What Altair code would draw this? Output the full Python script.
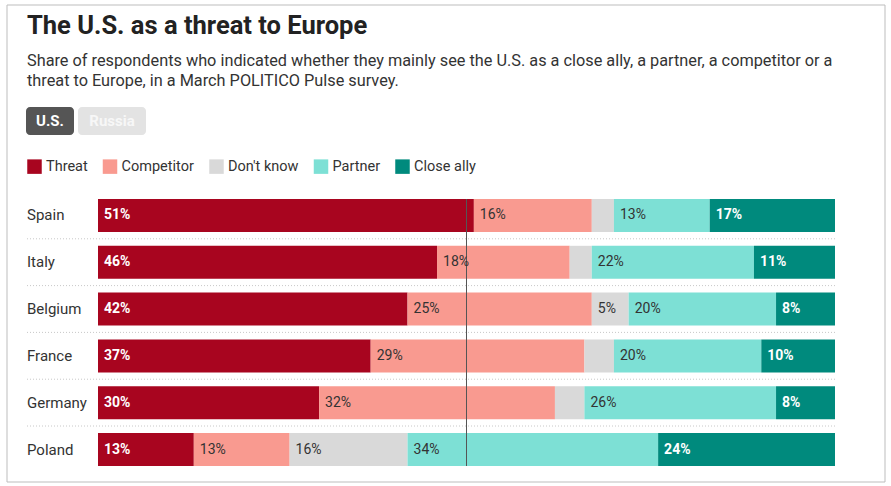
import altair as alt
import pandas as pd

countries = ["Spain", "Italy", "Belgium", "France", "Germany", "Poland"]
categories = ["Threat", "Competitor", "Don't know", "Partner", "Close ally"]
threat = [51, 46, 42, 37, 30, 13]
competitor = [16, 18, 25, 29, 32, 13]
dont_know = [3, 3, 5, 4, 4, 16]
partner = [13, 22, 20, 20, 26, 34]
close_ally = [17, 11, 8, 10, 8, 24]
colors = ["#a8051f", "#f99a90", "#d9d9d9", "#7de0d5", "#008a7d"]
label_colors = ["#ffffff", "#333333", "#333333", "#333333", "#ffffff"]

title_text = "The U.S. as a threat to Europe"
subtitle_1 = "Share of respondents who indicated whether they mainly see the U.S. as a close ally, a partner, a competitor or a"
subtitle_2 = "threat to Europe, in a March POLITICO Pulse survey."

series = [threat, competitor, dont_know, partner, close_ally]
rows = []
for i, c in enumerate(countries):
    start = 0
    for k, cat in enumerate(categories):
        v = series[k][i]
        rows.append({"country": c, "category": cat, "value": v, "start": start,
                     "end": start + v, "label": f"{v}%" if v >= 5 else "",
                     "weight": "bold" if label_colors[k] == "#ffffff" else "normal"})
        start += v
df = pd.DataFrame(rows)

FONT = "Roboto"
xs = alt.Scale(domain=[0, 100], range=[98, 835])
ys = alt.Scale(domain=countries, range=[199, 466], paddingInner=0.295, paddingOuter=0)

base = alt.Chart(df)
bars = base.mark_rect().encode(
    x=alt.X("start:Q", scale=xs, axis=None),
    x2="end:Q",
    y=alt.Y("country:N", scale=ys, axis=None),
    color=alt.Color("category:N", scale=alt.Scale(domain=categories, range=colors),
                    legend=alt.Legend(title=None, orient="none", legendX=27, legendY=159,
                                      direction="horizontal", symbolType="square",
                                      symbolSize=210, symbolStrokeWidth=0,
                                      labelFontSize=14.5, labelFont=FONT, labelColor="#333333",
                                      columnPadding=14.5, labelOffset=4, padding=0)),
)
labels_white = base.transform_filter("datum.weight == 'bold'").mark_text(
    align="left", baseline="middle", dx=6, font=FONT, fontSize=14, fontWeight="bold", color="#ffffff"
).encode(x=alt.X("start:Q", scale=xs, axis=None), y=alt.Y("country:N", scale=ys, axis=None),
         text="label:N")
labels_dark = base.transform_filter("datum.weight != 'bold'").mark_text(
    align="left", baseline="middle", dx=6, font=FONT, fontSize=14, color="#333333"
).encode(x=alt.X("start:Q", scale=xs, axis=None), y=alt.Y("country:N", scale=ys, axis=None),
         text="label:N")

cdf = pd.DataFrame({"country": countries})
row_labels = alt.Chart(cdf).mark_text(align="left", baseline="middle", font=FONT, fontSize=15,
                                       color="#333333").encode(
    x=alt.value(27), y=alt.Y("country:N", scale=ys, axis=None), text="country:N")

sep = alt.Chart(pd.DataFrame({"country": countries[1:]})).mark_rule(
    color="#c8c8c8", strokeDash=[1, 2], strokeWidth=1, yOffset=-7).encode(
    x=alt.value(27), x2=alt.value(835), y=alt.Y("country:N", scale=ys, axis=None, bandPosition=0))

mid = alt.Chart(pd.DataFrame({"v": [50]})).mark_rule(color="#555555", strokeWidth=1).encode(
    x=alt.X("v:Q", scale=xs, axis=None), y=alt.value(199), y2=alt.value(466))

border = alt.Chart(pd.DataFrame({"a": [1]})).mark_rect(fill="#ffffff", fillOpacity=0, stroke="#bdbdbd",
                                                       strokeWidth=1).encode(
    x=alt.value(7), x2=alt.value(885), y=alt.value(5), y2=alt.value(482))

title = alt.Chart(pd.DataFrame({"t": [title_text]})).mark_text(
    align="left", baseline="alphabetic", font=FONT, fontSize=25.5,
    fontWeight="bold", color="#222222").encode(
    x=alt.value(27), y=alt.value(34), text="t:N")
sub1 = alt.Chart(pd.DataFrame({"t": [subtitle_1]})).mark_text(
    align="left", baseline="alphabetic", font=FONT, fontSize=16.3, color="#333333").encode(
    x=alt.value(27), y=alt.value(66), text="t:N")
sub2 = alt.Chart(pd.DataFrame({"t": [subtitle_2]})).mark_text(
    align="left", baseline="alphabetic", font=FONT, fontSize=16.3, color="#333333").encode(
    x=alt.value(27), y=alt.value(86), text="t:N")

btn1 = alt.Chart(pd.DataFrame({"a": [1]})).mark_rect(fill="#555555", cornerRadius=4).encode(
    x=alt.value(26), x2=alt.value(74), y=alt.value(107), y2=alt.value(135))
btn2 = alt.Chart(pd.DataFrame({"a": [1]})).mark_rect(fill="#e3e3e3", cornerRadius=4).encode(
    x=alt.value(78), x2=alt.value(146), y=alt.value(107), y2=alt.value(135))
btn1t = alt.Chart(pd.DataFrame({"t": ["U.S."]})).mark_text(
    align="center", baseline="middle", font=FONT, fontSize=15, fontWeight="bold", color="#ffffff").encode(
    x=alt.value(50), y=alt.value(121), text="t:N")
btn2t = alt.Chart(pd.DataFrame({"t": ["Russia"]})).mark_text(
    align="center", baseline="middle", font=FONT, fontSize=15, fontWeight="bold", color="#f7f7f7").encode(
    x=alt.value(112), y=alt.value(121), text="t:N")

chart = alt.layer(border, title, sub1, sub2, btn1, btn2, btn1t, btn2t, sep, bars, mid,
                  labels_white, labels_dark, row_labels).properties(
    width=891, height=486, autosize=alt.AutoSizeParams(type="none"), padding=0,
    background="#ffffff"
).configure_view(strokeWidth=0)

chart.save("out.html", embed_options={"renderer": "svg", "actions": False})
